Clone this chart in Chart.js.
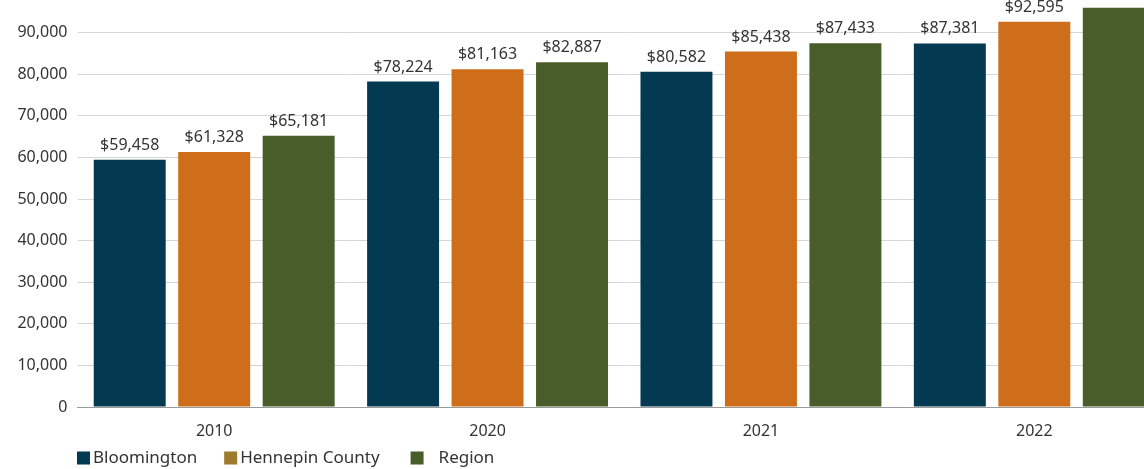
<!DOCTYPE html>
<html>
<head>
<meta charset="utf-8">
<script src="https://cdn.jsdelivr.net/npm/chart.js@4.4.1/dist/chart.umd.min.js"></script>
<style>
  html, body { margin: 0; padding: 0; background: #fff; }
  #frame { position: relative; width: 1144px; height: 469px; overflow: hidden; }
  #wrap  { position: absolute; left: 0; top: -40px; width: 1180px; height: 509px; }
</style>
</head>
<body>
<div id="frame"><div id="wrap"><canvas id="incomeChart"></canvas></div></div>
<script>
// ─── DATA ──────────────────────────────────────────────────
const years        = ['2010', '2020', '2021', '2022'];
const bloomington  = [59458, 78224, 80582, 87381];
const hennepin     = [61328, 81163, 85438, 92595];
const region       = [65181, 82887, 87433, 96000];   // 2022 label is cut off in the source
const seriesNames  = ['Bloomington', 'Hennepin County', 'Region'];
const barColors    = ['#033a52', '#cf6e1a', '#485d29'];
const legendColors = ['#033a52', '#9e7b2c', '#485d29'];

const FONT = '"Noto Sans", "Open Sans", sans-serif';
const TEXT = '#333333';

// value labels above each bar
const valueLabels = {
  id: 'valueLabels',
  afterDatasetsDraw(chart) {
    const ctx = chart.ctx;
    ctx.save();
    ctx.font = `16px ${FONT}`;
    ctx.fillStyle = TEXT;
    ctx.textAlign = 'center';
    ctx.textBaseline = 'alphabetic';
    chart.data.datasets.forEach((ds, i) => {
      chart.getDatasetMeta(i).data.forEach((bar, j) => {
        ctx.fillText('$' + ds.data[j].toLocaleString('en-US'), bar.x, bar.y - 10);
      });
    });
    ctx.restore();
  },
};

// legend drawn bottom-left, under the axis
const bottomLegend = {
  id: 'bottomLegend',
  afterDraw(chart) {
    const ctx = chart.ctx;
    const y = chart.height - 11;
    let x = 77;
    ctx.save();
    ctx.font = `17px ${FONT}`;
    ctx.textBaseline = 'middle';
    ctx.textAlign = 'left';
    seriesNames.forEach((name, i) => {
      ctx.fillStyle = legendColors[i];
      ctx.fillRect(x, y - 6.5, 13, 13);
      ctx.fillStyle = TEXT;
      const tx = x + 16 + (i === 2 ? 12 : 0);
      ctx.fillText(name, tx, y);
      x = tx + ctx.measureText(name).width + (i === 0 ? 27 : 31);
    });
    ctx.restore();
  },
};

new Chart(document.getElementById('incomeChart'), {
  type: 'bar',
  data: {
    labels: years,
    datasets: [
      { label: seriesNames[0], data: bloomington, backgroundColor: barColors[0] },
      { label: seriesNames[1], data: hennepin,    backgroundColor: barColors[1] },
      { label: seriesNames[2], data: region,      backgroundColor: barColors[2] },
    ],
  },
  options: {
    responsive: true,
    maintainAspectRatio: false,
    animation: false,
    categoryPercentage: 0.927,
    barPercentage: 0.852,
    layout: { padding: { top: 31, right: 9, left: 0, bottom: 22 } },
    plugins: {
      legend: { display: false },
      tooltip: { enabled: false },
    },
    scales: {
      x: {
        grid: { display: false, drawTicks: false },
        border: { color: '#9a9a9a', width: 1 },
        ticks: { color: TEXT, padding: 15, font: { family: FONT, size: 16 } },
        afterFit: s => { s.height = 40; },
      },
      y: {
        min: 0,
        max: 100000,
        grid: { color: '#d6d6d6', drawTicks: false },
        border: { display: false },
        ticks: { stepSize: 10000, color: TEXT, padding: 10, font: { family: FONT, size: 16 } },
        afterFit: s => { s.width = 77.5; },
      },
    },
  },
  plugins: [valueLabels, bottomLegend],
});
</script>
</body>
</html>
